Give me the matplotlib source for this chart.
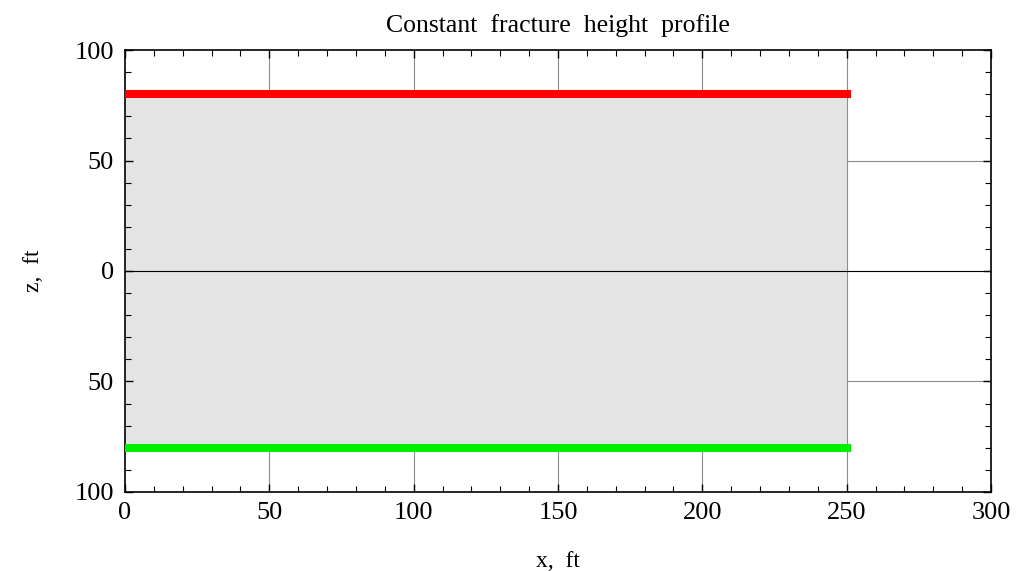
import numpy as np
import matplotlib.pyplot as plt
from matplotlib.ticker import MultipleLocator

# profile data
x_frac = [0, 250]
z_top = [80, 80]
z_bot = [-80, -80]

y_ticks = [100, 50, 0, -50, -100]
y_tick_labels = ["100", "50", "0", "50", "100"]
x_ticks = [0, 50, 100, 150, 200, 250, 300]

plt.rcParams["font.family"] = ["Liberation Serif", "DejaVu Serif"]

fig = plt.figure(figsize=(10.16, 5.71), dpi=100)
ax = fig.add_axes([0.123, 0.1384, 0.8524, 0.774])

ax.set_xlim(0, 300)
ax.set_ylim(-100, 100)

# grid first, fill covers it
for xv in x_ticks[1:-1]:
    ax.axvline(xv, color="#8c8c8c", lw=0.8, zorder=0)
for yv in [50, -50]:
    ax.axhline(yv, color="#8c8c8c", lw=0.8, zorder=0)

ax.fill_between(x_frac, z_bot, z_top, color="#e4e4e4", lw=0, zorder=1)
ax.axhline(0, color="black", lw=0.8, zorder=2)

ax.plot(x_frac, z_top, color="#ff0000", lw=5.8, solid_capstyle="projecting", zorder=3)
ax.plot(x_frac, z_bot, color="#00ee00", lw=5.8, solid_capstyle="projecting", zorder=3)

ax.set_xticks(x_ticks)
ax.set_xticklabels([str(v) for v in x_ticks])
ax.set_yticks(y_ticks)
ax.set_yticklabels(y_tick_labels)
ax.xaxis.set_minor_locator(MultipleLocator(10))
ax.yaxis.set_minor_locator(MultipleLocator(10))
ax.tick_params(which="both", direction="in", top=True, right=True, labelsize=19)
ax.tick_params(which="major", length=6, width=1)
ax.tick_params(which="minor", length=4, width=0.8)
ax.tick_params(axis="x", pad=7)
ax.tick_params(axis="y", pad=8)

for s in ax.spines.values():
    s.set_linewidth(1.2)

ax.set_title("Constant  fracture  height  profile", fontsize=18.5, pad=13)
ax.set_xlabel("x,  ft", fontsize=17, labelpad=20)
ax.set_ylabel("z,  ft", fontsize=17, labelpad=22)

fig.savefig("out.png", dpi=100)
